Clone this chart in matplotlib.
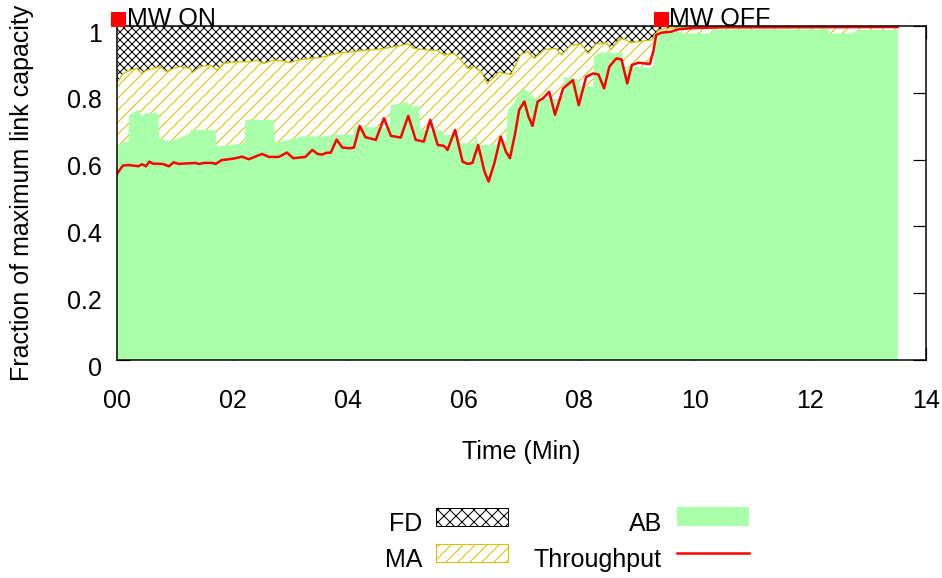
import matplotlib
matplotlib.use('Agg')
import matplotlib.pyplot as plt
from matplotlib import transforms
from matplotlib.patches import Rectangle
from matplotlib.lines import Line2D

# time in minutes, values as fraction of max link capacity
fd_t = [0.0, 13.51]
fd_v = [1.0, 1.0]

ma_t = [0.00, 0.11, 0.23, 0.34, 0.43, 0.52, 0.63, 0.75, 0.86, 0.98, 1.09, 1.27, 1.30, 1.44,
        1.61, 1.73, 1.84, 2.08, 2.31, 2.42, 2.54, 2.71, 2.89, 3.00, 3.12, 3.35, 3.52, 3.70,
        3.87, 4.10, 4.33, 4.51, 4.74, 5.03, 5.14, 5.37, 5.55, 5.66, 5.83, 5.95, 6.07, 6.18,
        6.30, 6.41, 6.50, 6.62, 6.70, 6.82, 6.91, 6.99, 7.11, 7.22, 7.40, 7.60, 7.69, 7.86,
        8.03, 8.15, 8.29, 8.47, 8.55, 8.70, 8.81, 8.90, 9.13, 9.25, 9.36, 9.48, 9.80, 10.46,
        13.51]
ma_v = [0.830, 0.858, 0.868, 0.873, 0.858, 0.868, 0.873, 0.878, 0.863, 0.873, 0.878, 0.873,
        0.860, 0.878, 0.883, 0.868, 0.888, 0.893, 0.893, 0.898, 0.888, 0.898, 0.895, 0.890,
        0.898, 0.903, 0.905, 0.913, 0.920, 0.923, 0.928, 0.930, 0.936, 0.946, 0.933, 0.928,
        0.926, 0.913, 0.918, 0.898, 0.873, 0.878, 0.863, 0.828, 0.843, 0.863, 0.858, 0.855,
        0.888, 0.915, 0.923, 0.903, 0.930, 0.933, 0.913, 0.943, 0.946, 0.918, 0.946, 0.950,
        0.930, 0.963, 0.958, 0.950, 0.956, 0.958, 0.986, 0.993, 0.995, 0.998, 0.998]

ab_t = [0.00, 0.17, 0.20, 0.21, 0.37, 0.43, 0.50, 0.72, 0.73, 0.92, 1.21, 1.26, 1.27, 1.70,
        1.73, 2.19, 2.21, 2.22, 2.71, 2.74, 3.23, 3.52, 3.80, 4.09, 4.10, 4.71, 4.74, 4.97,
        5.03, 5.08, 5.23, 5.25, 5.60, 5.66, 5.89, 5.95, 6.18, 6.21, 6.24, 6.30, 6.47, 6.73,
        6.76, 6.88, 6.96, 7.05, 7.14, 7.22, 7.73, 7.74, 7.99, 8.00, 8.24, 8.25, 8.35, 8.75,
        8.76, 9.29, 9.30, 9.77, 9.78, 10.29, 10.30, 12.32, 12.33, 12.77, 12.78, 13.51]
ab_v = [0.644, 0.654, 0.654, 0.734, 0.749, 0.730, 0.739, 0.739, 0.664, 0.654, 0.674, 0.674,
        0.689, 0.689, 0.639, 0.649, 0.649, 0.719, 0.719, 0.649, 0.670, 0.669, 0.674, 0.674,
        0.697, 0.697, 0.763, 0.770, 0.773, 0.760, 0.760, 0.689, 0.689, 0.674, 0.674, 0.649,
        0.649, 0.679, 0.649, 0.644, 0.644, 0.650, 0.749, 0.770, 0.800, 0.813, 0.800, 0.785,
        0.780, 0.848, 0.840, 0.820, 0.820, 0.908, 0.920, 0.920, 0.880, 0.874, 0.978, 0.983,
        0.978, 0.978, 0.990, 0.990, 0.978, 0.978, 0.988, 0.988]

tp_t = [0.00, 0.10, 0.20, 0.37, 0.43, 0.50, 0.56, 0.62, 0.79, 0.90, 0.98, 1.07, 1.24, 1.36,
        1.42, 1.50, 1.65, 1.71, 1.77, 1.82, 1.94, 2.05, 2.16, 2.28, 2.51, 2.63, 2.80, 2.94,
        3.05, 3.26, 3.38, 3.47, 3.55, 3.62, 3.70, 3.80, 3.90, 4.04, 4.10, 4.20, 4.30, 4.48,
        4.62, 4.74, 4.91, 5.04, 5.17, 5.31, 5.42, 5.55, 5.66, 5.72, 5.85, 5.98, 6.07, 6.15,
        6.25, 6.36, 6.43, 6.53, 6.64, 6.73, 6.80, 6.89, 6.96, 7.05, 7.12, 7.19, 7.28, 7.37,
        7.48, 7.58, 7.72, 7.89, 7.99, 8.12, 8.24, 8.33, 8.43, 8.52, 8.64, 8.73, 8.83, 8.91,
        9.02, 9.13, 9.22, 9.28, 9.33, 9.42, 9.59, 9.71, 10.00, 10.46, 13.51]
tp_v = [0.557, 0.582, 0.584, 0.580, 0.586, 0.580, 0.594, 0.588, 0.587, 0.580, 0.592, 0.587,
        0.589, 0.590, 0.587, 0.590, 0.590, 0.587, 0.594, 0.599, 0.601, 0.604, 0.609, 0.601,
        0.617, 0.608, 0.608, 0.621, 0.604, 0.608, 0.629, 0.617, 0.615, 0.620, 0.621, 0.660,
        0.636, 0.634, 0.636, 0.701, 0.667, 0.659, 0.724, 0.671, 0.666, 0.731, 0.659, 0.654,
        0.719, 0.644, 0.641, 0.629, 0.689, 0.594, 0.587, 0.590, 0.644, 0.564, 0.534, 0.589,
        0.669, 0.624, 0.604, 0.679, 0.749, 0.774, 0.729, 0.701, 0.774, 0.783, 0.803, 0.734,
        0.813, 0.838, 0.763, 0.848, 0.858, 0.855, 0.813, 0.878, 0.903, 0.900, 0.828, 0.883,
        0.890, 0.888, 0.886, 0.923, 0.973, 0.980, 0.983, 0.990, 0.994, 0.996, 0.997]

events_t = [0.02, 9.41]
events_txt = ['MW ON', 'MW OFF']

x_ticks = [0, 2, 4, 6, 8, 10, 12, 14]
x_labels = ['00', '02', '04', '06', '08', '10', '12', '14']
y_ticks = [0, 0.2, 0.4, 0.6, 0.8, 1]
y_labels = ['0', '0.2', '0.4', '0.6', '0.8', '1']

# at 72 dpi a point is a pixel, and the hatch cell is 72 px
DPI = 72
W, H = 942, 578


def fx(x):
    return x / W


def fy(y):
    return 1 - y / H


FS = 25
yellow = '#d2c200'
green = '#aaffaa'

plt.rcParams['font.family'] = ['Liberation Sans', 'DejaVu Sans']
plt.rcParams['hatch.linewidth'] = 1.0

fig = plt.figure(figsize=(W / DPI, H / DPI), dpi=DPI)
ax = fig.add_axes([fx(117), fy(360), (926 - 117) / W, (360 - 26) / H])

ax.fill_between(fd_t, 0, fd_v, facecolor='white', edgecolor='black', hatch='xxx', linewidth=0, zorder=2)
ax.fill_between(ma_t, 0, ma_v, facecolor='white', edgecolor=yellow, hatch='//', linewidth=0, zorder=2.1)
ax.plot(ma_t, ma_v, color=yellow, lw=1.3, zorder=2.2)
ax.fill_between(ab_t, 0, ab_v, facecolor=green, linewidth=0, zorder=2.3)
ax.plot(tp_t, tp_v, color='red', lw=2.5, zorder=2.4)

for s in ax.spines.values():
    s.set_linewidth(1.5)
    s.set_zorder(3)

ax.set_xlim(0, 14)
ax.set_ylim(0, 1)
ax.set_xticks(x_ticks, x_labels)
ax.set_yticks(y_ticks, y_labels)
ax.tick_params(direction='in', top=True, right=True, length=13, width=1.2, labelsize=FS)
ax.tick_params(axis='x', pad=28.5)
ax.tick_params(axis='y', pad=15)

shift = transforms.ScaledTranslation(0, -6.0 / DPI, fig.dpi_scale_trans)
for lab in ax.get_yticklabels():
    lab.set_transform(lab.get_transform() + shift)

ax.set_xlabel('Time (Min)', fontsize=FS)
ax.xaxis.set_label_coords(0.5, (360 - 439.5) / 334)
ax.set_ylabel('Fraction of maximum link capacity', fontsize=FS)
ax.yaxis.set_label_coords((34 - 117) / 809, 0.5)

# MW ON / OFF markers sitting on top of the frame
mark_tr = transforms.offset_copy(ax.transData, fig=fig, x=0, y=7, units='dots')
text_tr = transforms.offset_copy(ax.transData, fig=fig, x=8.5, y=0, units='dots')
for t, txt in zip(events_t, events_txt):
    ax.plot([t], [1.0], 's', color='red', ms=15, mew=0, transform=mark_tr,
            clip_on=False, zorder=5)
    ax.text(t, 1.0, txt, transform=text_tr, ha='left', va='baseline', fontsize=FS, zorder=5)

# legend, gnuplot style: right aligned labels, sample on the right
fig.text(fx(422), fy(531), 'FD', ha='right', va='baseline', fontsize=FS)
fig.text(fx(422), fy(567), 'MA', ha='right', va='baseline', fontsize=FS)
fig.text(fx(662), fy(531), 'AB', ha='right', va='baseline', fontsize=FS)
fig.text(fx(662), fy(567), 'Throughput', ha='right', va='baseline', fontsize=FS)
fig.add_artist(Rectangle((fx(436), fy(526)), (508 - 436) / W, (526 - 508) / H,
                         transform=fig.transFigure, facecolor='white', edgecolor='black',
                         hatch='xx', lw=1))
fig.add_artist(Rectangle((fx(436), fy(562)), (508 - 436) / W, (562 - 544) / H,
                         transform=fig.transFigure, facecolor='white', edgecolor=yellow,
                         hatch='//', lw=1))
fig.add_artist(Rectangle((fx(677), fy(526)), (749 - 677) / W, (526 - 507) / H,
                         transform=fig.transFigure, facecolor=green, lw=0))
fig.add_artist(Line2D([fx(677), fx(749)], [fy(553), fy(553)], transform=fig.transFigure,
                      color='red', lw=2.5))

fig.savefig('out.png', dpi=DPI)
